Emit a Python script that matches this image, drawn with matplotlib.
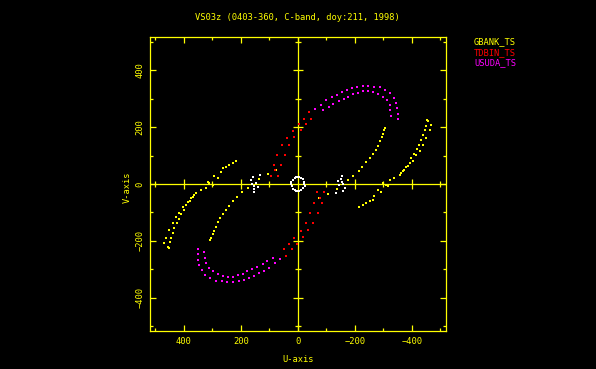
#!/usr/bin/env python3

import numpy as np
import matplotlib
matplotlib.use("Agg")
import matplotlib.pyplot as plt
from matplotlib.ticker import MultipleLocator

YELLOW = "#ffff00"
TITLE = "VS03z (0403-360, C-band, doy:211, 1998)"
STATIONS = ["GBANK_TS", "TDBIN_TS", "USUDA_TS"]
STATION_COLORS = ["#ffff00", "#ff0000", "#ff00ff"]
LIMIT = 518

# uv points in kilo-lambda, one half only; the conjugate (-u, -v) is plotted too
# GBANK_TS, inner track
gb_in_u = [-76, -105, -137, -175, -195, -213, -226, -240, -252, -263, -273, -281, -287, -295, -298, -304, -306]
gb_in_v = [-50, -34, -18, 13, 29, 44, 60, 76, 91, 106, 120, 135, 150, 164, 177, 191, 198]
# GBANK_TS, outer track (two bands)
gb_out_u = [-216, -240, -263, -269, -293, -310, -322, -339, -357, -368, -378, -392, -398, -409, -418,
            -425, -433, -439, -445, -448, -456, -452]
gb_out_v = [-79, -67, -55, -43, -29, -2, 15, 21, 30, 44, 58, 74, 91, 105, 123,
            138, 155, 173, 191, 202, 220, 226]
gb_out2_u = [-228, -252, -281, -298, -316, -363, -374, -386, -404, -415, -427, -439, -450, -462, -468]
gb_out2_v = [-72, -60, -20, 4, -6, 39, 50, 62, 79, 103, 117, 138, 161, 191, 208]

# TDBIN_TS (two bands)
td_a_u = [68, 58, 44, 30, 12, -12, -29, -47]
td_a_v = [29, 68, 103, 136, 164, 191, 209, 228]
td_b_u = [93, 79, 85, 72, 54, 37, 18, -4, -21, -41]
td_b_v = [27, 49, 65, 102, 136, 161, 187, 211, 229, 251]

# USUDA_TS (two bands)
us_out_u = [-61, -81, -100, -119, -136, -154, -172, -189, -207, -228, -248, -266, -287, -307,
            -324, -337, -345, -349, -350, -350]
us_out_v = [263, 276, 295, 304, 313, 323, 331, 337, 341, 344, 344, 342, 339, 331,
            319, 302, 284, 267, 246, 228]
us_in_u = [-88, -108, -123, -144, -161, -177, -193, -211, -228, -246, -263, -281, -298, -312,
           -322, -325, -328]
us_in_v = [261, 271, 281, 292, 299, 307, 316, 321, 325, 325, 323, 316, 306, 296,
           278, 261, 237]

# short ground baseline (white)
gr_ring_u = [24, 23, 21, 17, 11, 5, 0, -6, -11, -17]
gr_ring_v = [8, 0, -8, -17, -22, -24, -24, -23, -20, -13]
gr_arc_u = [164, 158, 134, 146, 155, 152, 154, 140, 160]
gr_arc_v = [15, 23, 33, 4, -8, -18, -29, -12, 0]


def plot_track(ax, u, v, color):
    u = np.asarray(u, dtype=float)
    v = np.asarray(v, dtype=float)
    ax.plot(np.concatenate([u, -u]), np.concatenate([v, -v]),
            ls="none", marker="s", ms=1.5, mew=0, color=color, antialiased=False)


def main():
    plt.rcParams["font.family"] = ["DejaVu Sans Mono"]
    plt.rcParams["font.size"] = 6.3

    fig = plt.figure(figsize=(5.96, 3.69), dpi=100, facecolor="black")
    ax = fig.add_axes([150 / 596, 1 - 331 / 369, 295.5 / 596, 294 / 369], facecolor="black")

    ax.axhline(0, color=YELLOW, lw=0.9, zorder=1)
    ax.axvline(0, color=YELLOW, lw=0.9, zorder=1)
    major = np.arange(-400, 401, 200)
    major = major[major != 0]
    minor = np.arange(-500, 501, 200)
    ax.plot(major, np.zeros_like(major), ls="none", marker="|", ms=7, mew=0.9, color=YELLOW)
    ax.plot(minor, np.zeros_like(minor), ls="none", marker="|", ms=4.3, mew=0.9, color=YELLOW)
    ax.plot(np.zeros_like(major), major, ls="none", marker="_", ms=7, mew=0.9, color=YELLOW)
    ax.plot(np.zeros_like(minor), minor, ls="none", marker="_", ms=4.3, mew=0.9, color=YELLOW)

    plot_track(ax, gb_in_u, gb_in_v, STATION_COLORS[0])
    plot_track(ax, gb_out_u, gb_out_v, STATION_COLORS[0])
    plot_track(ax, gb_out2_u, gb_out2_v, STATION_COLORS[0])
    plot_track(ax, td_a_u, td_a_v, STATION_COLORS[1])
    plot_track(ax, td_b_u, td_b_v, STATION_COLORS[1])
    plot_track(ax, us_out_u, us_out_v, STATION_COLORS[2])
    plot_track(ax, us_in_u, us_in_v, STATION_COLORS[2])
    plot_track(ax, gr_ring_u, gr_ring_v, "white")
    plot_track(ax, gr_arc_u, gr_arc_v, "white")

    ax.set_xlim(LIMIT, -LIMIT)
    ax.set_ylim(-LIMIT + 2, LIMIT - 2)

    for axis in (ax.xaxis, ax.yaxis):
        axis.set_major_locator(MultipleLocator(200))
        axis.set_minor_locator(MultipleLocator(100))
    ax.tick_params(which="both", direction="in", top=True, right=True,
                   color=YELLOW, labelcolor=YELLOW, width=0.9)
    ax.tick_params(which="major", length=4.3, pad=4)
    ax.tick_params(which="minor", length=2.5)
    ax.tick_params(axis="y", labelrotation=90)
    for lab in ax.get_yticklabels():
        lab.set_va("center")
    for sp in ax.spines.values():
        sp.set_color(YELLOW)
        sp.set_linewidth(0.9)

    ax.set_xlabel("U-axis", color=YELLOW)
    ax.set_ylabel("V-axis", color=YELLOW)
    ax.xaxis.set_label_coords(0.5, -0.08)
    ax.yaxis.set_label_coords(-0.062, 0.49)

    fig.text(297.5 / 596, 1 - 17 / 369, TITLE, color=YELLOW, ha="center", va="center")
    for i, (name, col) in enumerate(zip(STATIONS, STATION_COLORS)):
        fig.text(474 / 596, 1 - (42 + 10.3 * i) / 369, name, color=col, ha="left", va="center")

    fig.savefig("out.png", dpi=100, facecolor="black")


if __name__ == "__main__":
    main()
